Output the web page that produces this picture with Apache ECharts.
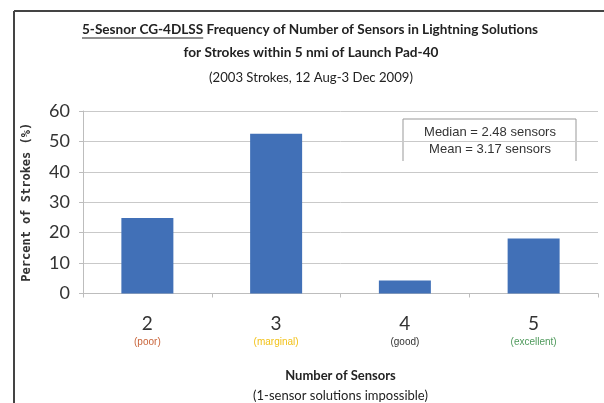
<!DOCTYPE html>
<html><head><meta charset="utf-8">
<script src="https://cdn.jsdelivr.net/npm/echarts@6/dist/echarts.min.js"></script>
<style>html,body{margin:0;padding:0;background:#fff}#c{width:604px;height:403px}</style>
</head><body><div id="c"></div>
<script>
const categories = ['2', '3', '4', '5'];
const qualities = ['poor', 'marginal', 'good', 'excellent'];
const percents = [24.8, 52.5, 4.3, 18.1];
const yTicks = [0, 10, 20, 30, 40, 50, 60];
const titleLines = ['5-Sesnor CG-4DLSS', ' Frequency of Number of Sensors in Lightning Solutions', 'for Strokes within 5 nmi of Launch Pad-40', '(2003 Strokes, 12 Aug-3 Dec 2009)'];
const statLines = ['Median = 2.48 sensors', 'Mean = 3.17 sensors'];
const xName = ['Number of Sensors', '(1-sensor solutions impossible)'];
const yName = 'Percent of Strokes (%)';

const narrow = 'Lato, "Liberation Sans", sans-serif';
const qColors = {poor:'#c8643a', marginal:'#f2c21a', good:'#333333', excellent:'#4f9a5c'};

const ctx = document.createElement('canvas').getContext('2d');
function w(text, font) { ctx.font = font; return ctx.measureText(text).width; }
const tFontB = 'bold 14px Lato';
const tFont = '14px Lato';
// target widths
const s1 = 456 / w(titleLines[0] + titleLines[1], tFontB);
const s2 = 255 / w(titleLines[2], tFontB);
const s3 = 204 / w(titleLines[3], tFont);
const wU = w(titleLines[0], tFontB) * s1;
const x0 = 310 - 228;

const chart = echarts.init(document.getElementById('c'), null, {renderer:'canvas'});
const rich = {n:{fontSize:19, color:'#333', fontFamily:narrow, lineHeight:22, align:'center'}};
qualities.forEach(q => { rich[q] = {fontSize:10, color:qColors[q], fontFamily:'"Liberation Sans", Arial, sans-serif', lineHeight:16, align:'center'}; });

chart.setOption({
  animation:false,
  backgroundColor:'#fff',
  grid:{left:83, right:6, top:111, bottom:104},
  xAxis:{
    type:'category', data:categories,
    axisLine:{lineStyle:{color:'#bdbdbd'}},
    axisTick:{show:true, length:4, lineStyle:{color:'#bdbdbd'}},
    axisLabel:{interval:0, margin:19, formatter:(v, i) => '{n|' + v + '}\n{' + qualities[i] + '|(' + qualities[i] + ')}', rich:rich},
    name: '{a|' + xName[0] + '}\n{b|' + xName[1] + '}',
    nameLocation:'middle', nameGap:72,
    nameTextStyle:{rich:{
      a:{fontSize:13, fontWeight:'bold', color:'#222', fontFamily:narrow, lineHeight:20},
      b:{fontSize:13, color:'#222', fontFamily:narrow, lineHeight:20}
    }}
  },
  yAxis:{
    type:'value', min:yTicks[0], max:yTicks[yTicks.length-1], interval:10,
    axisLine:{show:true, lineStyle:{color:'#bdbdbd'}},
    axisTick:{show:true, length:4, lineStyle:{color:'#bdbdbd'}},
    splitLine:{lineStyle:{color:'#c9c9c9'}},
    axisLabel:{fontSize:18, color:'#333', fontFamily:narrow, margin:13},
    name: yName, nameLocation:'middle', nameGap:50, nameRotate:90,
    nameTextStyle:{fontSize:12, fontWeight:'bold', color:'#333', fontFamily:'"DejaVu Sans Mono", monospace'}
  },
  series:[{
    type:'bar', data:percents, barWidth:52,
    itemStyle:{color:'#4170b7'}
  }],
  graphic:[
    {type:'line', shape:{x1:14, y1:11, x2:604, y2:11}, style:{stroke:'#444', lineWidth:2}},
    {type:'line', shape:{x1:14, y1:11, x2:14, y2:403}, style:{stroke:'#444', lineWidth:2}},
    {type:'text', x:310, y:22, scaleX:s1, originX:0, style:{
      text:titleLines[0] + titleLines[1], font:tFontB, fill:'#222', align:'center'
    }},
    {type:'line', shape:{x1:x0, y1:38, x2:x0 + wU, y2:38}, style:{stroke:'#222', lineWidth:1}},
    {type:'text', x:311, y:45, scaleX:s2, originX:0, style:{text:titleLines[2], font:tFontB, fill:'#222', align:'center'}},
    {type:'text', x:311, y:70, scaleX:s3, originX:0, style:{text:titleLines[3], font:tFont, fill:'#222', align:'center'}},
    {type:'polyline', shape:{points:[[403,161],[403,119],[576,119],[576,161]]}, style:{stroke:'#999', lineWidth:1, fill:null}},
    {type:'rect', shape:{x:404, y:120, width:171, height:41}, style:{fill:'#fff'}},
    {type:'text', x:490, y:124, style:{text:statLines.join('\n'), fontSize:13, lineHeight:17, fontFamily:'"Liberation Sans", Arial, sans-serif', fill:'#333', align:'center'}}
  ]
});
</script></body></html>
